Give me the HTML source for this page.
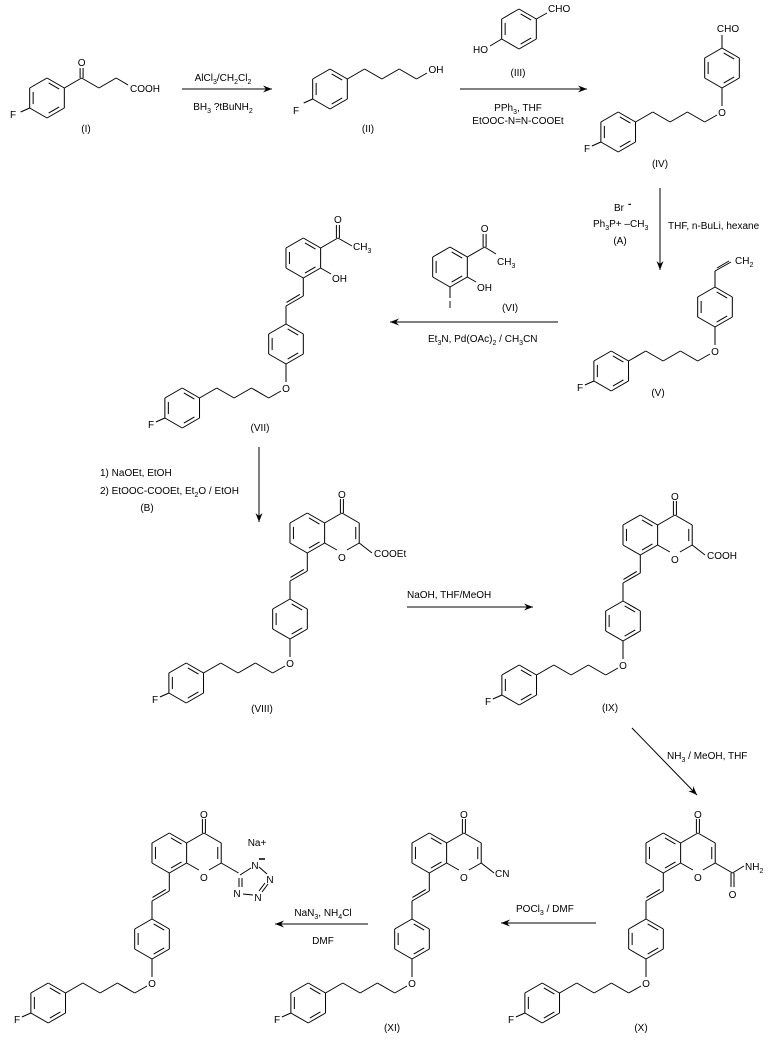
<!DOCTYPE html>
<html><head><meta charset="utf-8"><style>
html,body{margin:0;padding:0;background:#fff;}
svg{display:block;}
text{font-family:"Liberation Sans",Arial,sans-serif;font-size:10px;fill:#000;}
.s{font-size:7px;}
</style></head><body>
<svg id="svg" width="768" height="1040" viewBox="0 0 768 1040" xmlns="http://www.w3.org/2000/svg">
<rect width="768" height="1040" fill="#fff"/>
<g id="g" stroke="#000" stroke-width="1" fill="none"></g>
<g id="t">
<!-- I -->
<text x="81.6" y="66" text-anchor="middle">O</text>
<text x="130" y="92">COOH</text>
<text x="13" y="118" text-anchor="middle">F</text>
<text x="86" y="132" text-anchor="middle">(I)</text>
<!-- arrow1 -->
<text x="223" y="81" text-anchor="middle">AlCl<tspan class="s" dy="3">3</tspan><tspan dy="-3">/CH</tspan><tspan class="s" dy="3">2</tspan><tspan dy="-3">Cl</tspan><tspan class="s" dy="3">2</tspan></text>
<text x="223" y="110" text-anchor="middle">BH<tspan class="s" dy="3">3</tspan><tspan dy="-3"> ?tBuNH</tspan><tspan class="s" dy="3">2</tspan></text>
<!-- II -->
<text x="296" y="114" text-anchor="middle">F</text>
<text x="436" y="73" text-anchor="middle">OH</text>
<text x="368" y="132" text-anchor="middle">(II)</text>
<!-- III -->
<text x="488" y="53" text-anchor="end">HO</text>
<text x="548" y="12">CHO</text>
<text x="518" y="76" text-anchor="middle">(III)</text>
<text x="518" y="111" text-anchor="middle">PPh<tspan class="s" dy="3">3</tspan><tspan dy="-3">, THF</tspan></text>
<text x="518" y="124" text-anchor="middle">EtOOC-N=N-COOEt</text>
<!-- IV -->
<text x="728" y="32" text-anchor="middle">CHO</text>
<text x="722" y="116" text-anchor="middle">O</text>
<text x="587" y="152" text-anchor="middle">F</text>
<text x="660" y="167" text-anchor="middle">(IV)</text>
<!-- A -->
<text x="614" y="211">Br</text>
<text x="628" y="207" font-weight="bold">-</text>
<text x="593" y="227">Ph<tspan class="s" dy="3">3</tspan><tspan dy="-3">P+ –CH</tspan><tspan class="s" dy="3">3</tspan></text>
<text x="620" y="244" text-anchor="middle">(A)</text>
<text x="668" y="229">THF, n-BuLi, hexane</text>
<!-- V -->
<text x="735" y="264">CH<tspan class="s" dy="3">2</tspan></text>
<text x="715" y="355" text-anchor="middle">O</text>
<text x="580" y="391" text-anchor="middle">F</text>
<text x="658" y="396" text-anchor="middle">(V)</text>
<!-- VI -->
<text x="484.6" y="232" text-anchor="middle">O</text>
<text x="497" y="265">CH<tspan class="s" dy="3">3</tspan></text>
<text x="477" y="291">OH</text>
<text x="450" y="308" text-anchor="middle">I</text>
<text x="510" y="311" text-anchor="middle">(VI)</text>
<text x="428" y="342">Et<tspan class="s" dy="3">3</tspan><tspan dy="-3">N, Pd(OAc)</tspan><tspan class="s" dy="3">2</tspan><tspan dy="-3"> / CH</tspan><tspan class="s" dy="3">3</tspan><tspan dy="-3">CN</tspan></text>
<!-- VII -->
<text x="337.9" y="223" text-anchor="middle">O</text>
<text x="353" y="250">CH<tspan class="s" dy="3">3</tspan></text>
<text x="332" y="282">OH</text>
<text x="286" y="392" text-anchor="middle">O</text>
<text x="151" y="428" text-anchor="middle">F</text>
<text x="260" y="431" text-anchor="middle">(VII)</text>
<text x="100" y="476">1) NaOEt, EtOH</text>
<text x="100" y="494">2) EtOOC-COOEt, Et<tspan class="s" dy="3">2</tspan><tspan dy="-3">O / EtOH</tspan></text>
<text x="147" y="511" text-anchor="middle">(B)</text>
<!-- VIII -->
<text x="341.9" y="498" text-anchor="middle">O</text>
<text x="341.9" y="561" text-anchor="middle">O</text>
<text x="374" y="557">COOEt</text>
<text x="290" y="667" text-anchor="middle">O</text>
<text x="155" y="703" text-anchor="middle">F</text>
<text x="262" y="712" text-anchor="middle">(VIII)</text>
<text x="407" y="598">NaOH, THF/MeOH</text>
<!-- IX -->
<text x="674.9" y="500" text-anchor="middle">O</text>
<text x="674.9" y="563" text-anchor="middle">O</text>
<text x="707" y="559">COOH</text>
<text x="623" y="669" text-anchor="middle">O</text>
<text x="488" y="705" text-anchor="middle">F</text>
<text x="610" y="711" text-anchor="middle">(IX)</text>
<text x="667" y="759">NH<tspan class="s" dy="3">3</tspan><tspan dy="-3"> / MeOH, THF</tspan></text>
<!-- X -->
<text x="697.9" y="818" text-anchor="middle">O</text>
<text x="697.9" y="881" text-anchor="middle">O</text>
<text x="745" y="870">NH<tspan class="s" dy="3">2</tspan></text>
<text x="732.5" y="898" text-anchor="middle">O</text>
<text x="646" y="987" text-anchor="middle">O</text>
<text x="511" y="1023" text-anchor="middle">F</text>
<text x="641" y="1031" text-anchor="middle">(X)</text>
<text x="516" y="912">POCl<tspan class="s" dy="3">3</tspan><tspan dy="-3"> / DMF</tspan></text>
<!-- XI -->
<text x="463.9" y="818" text-anchor="middle">O</text>
<text x="463.9" y="881" text-anchor="middle">O</text>
<text x="495" y="877">CN</text>
<text x="412" y="987" text-anchor="middle">O</text>
<text x="277" y="1023" text-anchor="middle">F</text>
<text x="392" y="1031" text-anchor="middle">(XI)</text>
<text x="323" y="916" text-anchor="middle">NaN<tspan class="s" dy="3">3</tspan><tspan dy="-3">, NH</tspan><tspan class="s" dy="3">4</tspan><tspan dy="-3">Cl</tspan></text>
<text x="323" y="944" text-anchor="middle">DMF</text>
<!-- XII -->
<text x="203.9" y="818" text-anchor="middle">O</text>
<text x="203.9" y="881" text-anchor="middle">O</text>
<text x="257" y="846" text-anchor="middle">Na+</text>
<text x="255" y="869" text-anchor="middle">N</text>
<text x="270" y="883" text-anchor="middle">N</text>
<text x="258" y="901" text-anchor="middle">N</text>
<text x="237" y="897" text-anchor="middle">N</text>
<text x="152" y="987" text-anchor="middle">O</text>
<text x="17" y="1023" text-anchor="middle">F</text>
</g>
</svg>
<script>
(function(){
var NS='http://www.w3.org/2000/svg',g=document.getElementById('g');
function L(x1,y1,x2,y2,w){var l=document.createElementNS(NS,'line');l.setAttribute('x1',x1);l.setAttribute('y1',y1);l.setAttribute('x2',x2);l.setAttribute('y2',y2);if(w)l.setAttribute('stroke-width',w);g.appendChild(l);}
function P(pts){var p=document.createElementNS(NS,'polygon');p.setAttribute('points',pts);p.setAttribute('fill','#000');p.setAttribute('stroke','none');g.appendChild(p);}
function verts(cx,cy){var v=[];for(var i=0;i<6;i++){var a=(-90+60*i)*Math.PI/180;v.push([cx+20*Math.cos(a),cy+20*Math.sin(a)]);}return v;}
function inner(a,b,cx,cy){var f=0.2;var a1=[a[0]+(cx-a[0])*f,a[1]+(cy-a[1])*f],b1=[b[0]+(cx-b[0])*f,b[1]+(cy-b[1])*f];var s=0.12;var dx=b1[0]-a1[0],dy=b1[1]-a1[1];L(a1[0]+dx*s,a1[1]+dy*s,b1[0]-dx*s,b1[1]-dy*s);}
function ring(cx,cy,skip){skip=skip||[];var v=verts(cx,cy);for(var i=0;i<6;i++){if(skip.indexOf(i)>=0)continue;var a=v[i],b=v[(i+1)%6];L(a[0],a[1],b[0],b[1]);}
 [0,2,4].forEach(function(i){if(skip.indexOf(i)<0)inner(v[i],v[(i+1)%6],cx,cy);});return v;}
function dbl(x1,y1,x2,y2,o){var dx=x2-x1,dy=y2-y1,l=Math.sqrt(dx*dx+dy*dy),nx=-dy/l*o,ny=dx/l*o;L(x1,y1,x2,y2);L(x1+nx,y1+ny,x2+nx,y2+ny);}
function arrow(x1,y1,x2,y2){L(x1,y1,x2,y2);var dx=x2-x1,dy=y2-y1,l=Math.sqrt(dx*dx+dy*dy);dx/=l;dy/=l;var bx=x2-dx*9,by=y2-dy*9;P(x2+','+y2+' '+(bx-dy*3.5)+','+(by+dx*3.5)+' '+(x2-dx*6)+','+(y2-dy*6)+' '+(bx+dy*3.5)+','+(by-dx*3.5));}
function Fring(cx,cy){var v=ring(cx,cy);L(v[4][0],v[4][1],v[4][0]-9,v[4][1]+4);return v;}
function tail(Px,Py){ring(Px,Py);L(Px,Py+20,Px,Py+38);
 var z=[[Px-5,Py+47],[Px-17.3,Py+54],[Px-34.6,Py+44],[Px-51.9,Py+54],[Px-69.2,Py+44],[Px-86.5,Py+54]];
 for(var i=0;i<z.length-1;i++)L(z[i][0],z[i][1],z[i+1][0],z[i+1][1]);
 Fring(Px-103.8,Py+64);}
function vinylTo(Px,Py){L(Px,Py-20,Px,Py-38);var x1=Px,y1=Py-38,x2=Px+17.3,y2=Py-48;L(x1,y1,x2,y2);
 L(x1-1.5+2,y1-2.6-1,x2-1.5-2,y2-2.6+1);L(x2,y2,x2,Py-66);}
function chromone(Px,Py){vinylTo(Px,Py);var bc=[Px+17.3,Py-86];var bv=ring(bc[0],bc[1]);
 var cx=Px+51.9,cy=Py-86;var v=verts(cx,cy);
 L(bv[1][0],bv[1][1],v[0][0],v[0][1]);L(v[0][0],v[0][1],v[1][0],v[1][1]);L(v[1][0],v[1][1],v[2][0],v[2][1]);inner(v[1],v[2],cx,cy);
 L(v[2][0],v[2][1],v[3][0]+5,v[3][1]-3);L(v[3][0]-5,v[3][1]-3,bv[2][0],bv[2][1]);
 L(v[0][0]-1.5,v[0][1],v[0][0]-1.5,v[0][1]-14);L(v[0][0]+1.5,v[0][1],v[0][0]+1.5,v[0][1]-14);
 return v;}
// I
var v=Fring(47,98);L(v[1][0],v[1][1],81.6,78);L(80.1,78,80.1,68);L(83.1,78,83.1,68);L(81.6,78,98.9,88);L(98.9,88,116.2,78);L(116.2,78,128,85);
arrow(182,89,272,89);
// II
v=Fring(330,89);var c=[[v[1][0],v[1][1]],[347.3+17.3,69],[381.9,79],[399.2,69],[416.5,79],[427,73]];for(var i=0;i<c.length-1;i++)L(c[i][0],c[i][1],c[i+1][0],c[i+1][1]);
// III
v=ring(519,29);L(v[4][0],v[4][1],490,46);L(v[1][0],v[1][1],547,13);
arrow(460,89,587,89);
// IV
tail(722,68);L(722,48,722,35);
arrow(660,188,660,270);
// V
tail(715,307);L(715,287,715,271);L(715,271,731,262);L(717,268,729,261);
// VI
v=ring(450,267);L(v[1][0],v[1][1],484.6,247);L(483.1,247,483.1,234);L(486.1,247,486.1,234);L(484.6,247,496,254);L(v[2][0],v[2][1],476,282);L(v[3][0],v[3][1],450,298);
arrow(558,322,390,322);
// VII
tail(286,344);vinylTo(286,344);v=ring(303.3,258);L(v[1][0],v[1][1],337.9,238);L(336.4,238,336.4,225);L(339.4,238,339.4,225);L(337.9,238,352,246);L(v[2][0],v[2][1],331,274);
arrow(259,447,259,522);
// VIII
tail(290,619);v=chromone(290,619);L(v[2][0],v[2][1],372,553);
arrow(407,607,533,607);
// IX
tail(623,621);v=chromone(623,621);L(v[2][0],v[2][1],705,555);
arrow(632,728,697,795);
// X
tail(646,939);v=chromone(646,939);L(v[2][0],v[2][1],732.5,873);L(732.5,873,744,866);L(731,873,731,887);L(734,873,734,887);
arrow(596,923,501,923);
// XI
tail(412,939);v=chromone(412,939);L(v[2][0],v[2][1],494,873);
arrow(368,924,275,924);
// XII
tail(152,939);v=chromone(152,939);L(v[2][0],v[2][1],238.5,873);
L(240,875,251,868);L(259,867,267,874);L(268,884,262,892);L(265,883,259,891);L(253,895,243,894);L(239,878,239,887);L(242,878,242,887);
L(259,859,265,859,1.5);
})();
</script>
</body></html>
